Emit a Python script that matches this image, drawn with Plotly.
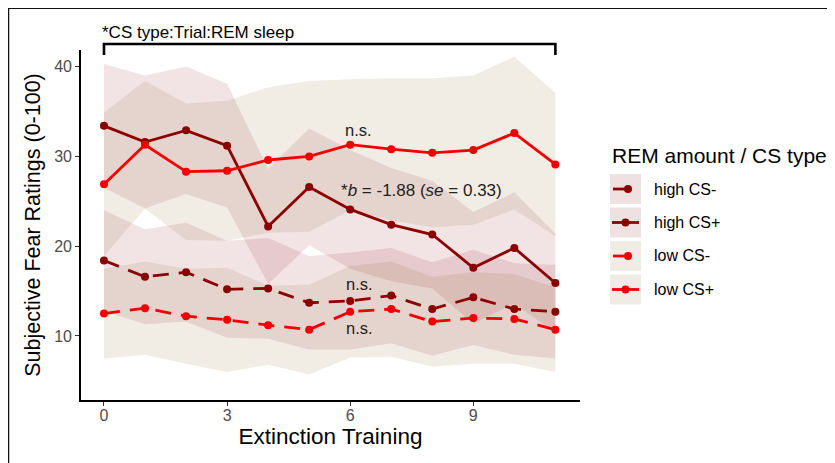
import plotly.graph_objects as go

trial = list(range(12))

high_cs_minus = [18.4, 16.6, 17.1, 15.2, 15.3, 13.7, 13.9, 14.5, 13.0, 14.3, 13.0, 12.7]
high_cs_plus = [33.4, 31.6, 32.9, 31.2, 22.2, 26.6, 24.1, 22.4, 21.3, 17.6, 19.8, 15.9]
low_cs_minus = [12.5, 13.1, 12.2, 11.8, 11.2, 10.7, 12.7, 13.0, 11.6, 12.0, 11.9, 10.7]
low_cs_plus = [26.9, 31.3, 28.3, 28.4, 29.6, 30.0, 31.3, 30.8, 30.4, 30.7, 32.6, 29.1]

high_cs_minus_se = [5.6, 5.3, 5.5, 5.4, 5.6, 5.2, 5.4, 5.3, 5.2, 5.3, 5.1, 5.2]
high_cs_plus_se = [6.9, 7.4, 7.1, 6.9, 6.4, 6.5, 6.6, 6.3, 6.0, 6.2, 6.2, 5.5]
low_cs_minus_se = [5.0, 5.2, 5.3, 5.8, 4.4, 5.0, 5.1, 5.3, 5.0, 5.1, 5.0, 4.7]
low_cs_plus_se = [8.0, 7.1, 7.6, 7.8, 8.1, 8.4, 7.3, 7.9, 8.3, 8.3, 8.5, 8.0]

group_names = ["high CS-", "high CS+", "low CS-", "low CS+"]
x_ticks = [0, 3, 6, 9]
y_ticks = [10, 20, 30, 40]

DARK = "#8B0000"
RED = "#F00000"
FILL_HIGH = "rgba(139,0,20,0.11)"
FILL_LOW = "rgba(150,110,50,0.13)"
FONT = "Liberation Sans, Arial, sans-serif"

groups = [
    (high_cs_minus, high_cs_minus_se, DARK, FILL_HIGH, "dash"),
    (high_cs_plus, high_cs_plus_se, DARK, FILL_HIGH, "solid"),
    (low_cs_minus, low_cs_minus_se, RED, FILL_LOW, "dash"),
    (low_cs_plus, low_cs_plus_se, RED, FILL_LOW, "solid"),
]

fig = go.Figure()
for (m, se, col, fill, dash), name in zip(groups, group_names):
    up = [a + b for a, b in zip(m, se)]
    lo = [a - b for a, b in zip(m, se)]
    fig.add_trace(go.Scatter(
        x=trial + trial[::-1], y=up + lo[::-1], fill="toself",
        fillcolor=fill, line=dict(width=0), mode="lines",
        hoverinfo="skip", showlegend=False))
for (m, se, col, fill, dash), name in zip(groups, group_names):
    fig.add_trace(go.Scatter(
        x=trial, y=m, mode="lines+markers", name=name,
        line=dict(color=col, width=2.8, dash="16px,10px" if dash == "dash" else "solid"),
        marker=dict(color=col, size=8), showlegend=False))

XR = [-0.56, 11.6]
YR = [2.87, 41.85]
OFF = 8  # page offset of the figure inside the window
W, H = 835, 463
L, T = 81 - OFF, 50 - OFF
pw, ph = 499, 350
R, B = W - L - pw, H - T - ph


def px(xpix):
    return (xpix - OFF - L) / pw


def py(ypix):
    return (T + ph - (ypix - OFF)) / ph


def dx(v):
    return (v - XR[0]) / (XR[1] - XR[0])


shapes = []
# outer frame (figure edge)
shapes.append(dict(type="line", xref="paper", yref="paper", x0=px(8), x1=px(860), y0=py(8.2), y1=py(8.2),
                   line=dict(color="#111", width=1.5)))
shapes.append(dict(type="line", xref="paper", yref="paper", x0=px(8.5), x1=px(8.5), y0=py(8), y1=py(480),
                   line=dict(color="#111", width=1.5)))
# bracket
bx0, bx1 = dx(trial[0]), dx(trial[-1])
shapes.append(dict(type="path", xref="paper", yref="paper",
                   path=f"M {bx0} {py(55)} L {bx0} {py(44)} L {bx1} {py(44)} L {bx1} {py(55)}",
                   line=dict(color="black", width=2.6)))

# legend keys
key_tops = [174, 207.5, 241, 274.5]
key_styles = [(DARK, True), (DARK, False), (RED, True), (RED, False)]
key_bg = ["#EFE0E2", "#EFE0E2", "#F0ECE5", "#F0ECE5"]
annotations = []
for top, (col, dashed), bg, name in zip(key_tops, key_styles, key_bg, group_names):
    shapes.append(dict(type="rect", xref="paper", yref="paper", x0=px(610), x1=px(641),
                       y0=py(top), y1=py(top + 30), fillcolor=bg, line=dict(width=0), layer="below"))
    cy = top + 15
    if dashed:
        x0k, x1k, cx = 613, 628, 628
    else:
        x0k, x1k, cx = 612, 639, 625.5
    shapes.append(dict(type="line", xref="paper", yref="paper", x0=px(x0k), x1=px(x1k),
                       y0=py(cy), y1=py(cy), line=dict(color=col, width=2.8)))
    shapes.append(dict(type="circle", xref="paper", yref="paper", x0=px(cx - 4), x1=px(cx + 4),
                       y0=py(cy - 4), y1=py(cy + 4), fillcolor=col, line=dict(width=0)))
    annotations.append(dict(x=px(652), y=py(cy), xref="paper", yref="paper", text=name,
                            showarrow=False, xanchor="left", yanchor="middle",
                            font=dict(size=16, color="black", family=FONT)))


def note(text, xpix, ypix, size, xanchor="center", color="#222"):
    annotations.append(dict(x=px(xpix), y=py(ypix), xref="paper", yref="paper", text=text,
                            showarrow=False, xanchor=xanchor, yanchor="middle",
                            font=dict(size=size, color=color, family=FONT)))


note("REM amount / CS type", 610, 155, 21, "left", "black")
note("*CS type:Trial:REM sleep", 100, 32, 17, "left", "black")
note("n.s.", 358, 130, 16.5)
note("*<i>b</i> = -1.88 (<i>se</i> = 0.33)", 421, 191, 17)
note("n.s.", 359, 284, 16.5)
note("n.s.", 359, 328, 16.5)

fig.update_layout(
    width=W, height=H,
    margin=dict(l=L, r=R, t=T, b=B, autoexpand=False),
    paper_bgcolor="white", plot_bgcolor="white",
    font=dict(family=FONT),
    showlegend=False,
    shapes=shapes, annotations=annotations,
    xaxis=dict(range=XR, tickvals=x_ticks, ticks="outside", ticklen=4, tickwidth=1.2,
               tickcolor="#333", showline=True, linecolor="black", linewidth=1.6,
               showgrid=False, zeroline=False, ticklabelstandoff=-4,
               tickfont=dict(size=16, color="#4D4D4D", family=FONT),
               title=dict(text="Extinction Training", font=dict(size=22.5, color="black", family=FONT),
                          standoff=2)),
    yaxis=dict(range=YR, tickvals=y_ticks, ticks="outside", ticklen=4, tickwidth=1.2,
               tickcolor="#333", showline=True, linecolor="black", linewidth=1.6,
               showgrid=False, zeroline=False,
               tickfont=dict(size=16, color="#4D4D4D", family=FONT),
               title=dict(text="Subjective Fear Ratings (0-100)",
                          font=dict(size=21.5, color="black", family=FONT), standoff=8)),
)

fig.write_html("out.html")
